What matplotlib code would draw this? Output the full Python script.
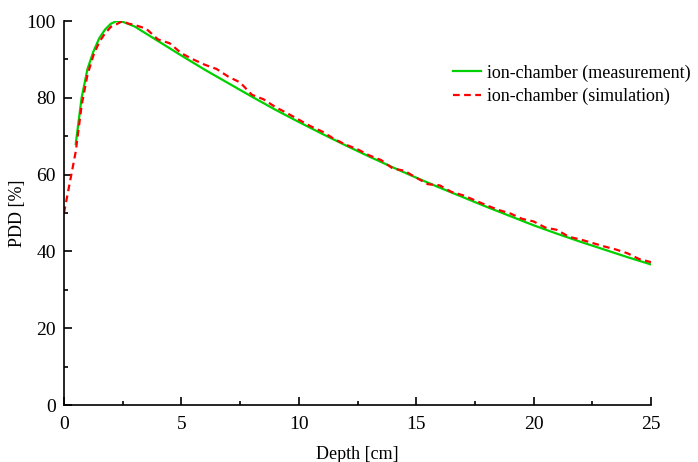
import matplotlib
matplotlib.use("Agg")
import matplotlib.pyplot as plt
from matplotlib.ticker import MultipleLocator

# measured PDD (ion chamber)
meas_depth = [0.5, 0.75, 1.0, 1.25, 1.5, 1.75, 2.0, 2.25, 2.5, 3.0, 4, 5, 6, 7, 8, 9,
              10, 11, 12, 13, 14, 15, 16, 17, 18, 19, 20, 21, 22, 23, 24, 25]
meas_pdd = [68, 80, 87.5, 92, 95.5, 97.8, 99.3, 100, 99.8, 98.6, 94.8, 91.0, 87.3, 83.8,
            80.3, 76.9, 73.7, 70.6, 67.6, 64.7, 61.9, 59.2, 56.6, 54.1, 51.6, 49.2, 46.8,
            44.6, 42.5, 40.5, 38.5, 36.6]

# simulated PDD
sim_depth = [0, 0.25, 0.5, 0.75, 1.0, 1.25, 1.5, 1.75, 2.0, 2.25, 2.5, 2.75, 3.0, 3.5,
             4.0, 4.5, 5.0, 5.5, 6.0, 6.5, 7.0, 7.5, 8.0, 8.5, 9.0, 9.5, 10, 10.5, 11,
             11.5, 12, 12.5, 13, 13.5, 14, 14.5, 15, 15.5, 16, 16.5, 17, 17.5, 18, 18.5,
             19, 19.5, 20, 20.5, 21, 21.5, 22, 22.5, 23, 23.5, 24, 24.5, 25]
sim_pdd = [50, 58, 66, 78, 86, 91, 94.5, 96.8, 98.5, 99.2, 100, 99.3, 99.0, 98, 95.2,
           94.2, 91.6, 90, 88.6, 87.5, 85.5, 84.0, 80.8, 79.6, 77.6, 76, 74.3, 72.6, 71.2,
           69.3, 67.8, 66.6, 65, 63.8, 61.6, 61, 59.2, 57.5, 57.2, 55.5, 54.6, 53.3, 52,
           50.8, 49.9, 48.5, 47.8, 46.2, 45.6, 43.8, 43.1, 42.2, 41.3, 40.5, 39.5, 38.0,
           37.2]

plt.rcParams["font.family"] = ["Liberation Serif", "DejaVu Serif"]

fig = plt.figure(figsize=(6.98, 4.62), dpi=100)
ax = fig.add_axes([64 / 698, 57 / 462, 587 / 698, 384 / 462])

ax.plot(meas_depth, meas_pdd, color="#00d000", lw=1.6, label="ion-chamber (measurement)")
ax.plot(sim_depth, sim_pdd, color="#ff0000", lw=1.6, ls=(0, (3, 2)),
        label="ion-chamber (simulation)")

ax.set_xlim(0, 25)
ax.set_ylim(0, 100)
ax.xaxis.set_major_locator(MultipleLocator(5))
ax.xaxis.set_minor_locator(MultipleLocator(2.5))
ax.yaxis.set_major_locator(MultipleLocator(20))
ax.yaxis.set_minor_locator(MultipleLocator(10))
ax.tick_params(which="both", direction="in", labelsize=14, width=1.2)
ax.tick_params(which="major", length=6)
ax.tick_params(which="minor", length=3)
ax.tick_params(axis="x", pad=8)
ax.tick_params(axis="y", pad=6)

for s in ["top", "right"]:
    ax.spines[s].set_visible(False)
for s in ["left", "bottom"]:
    ax.spines[s].set_linewidth(1.2)

ax.set_xlabel("Depth [cm]", fontsize=13, labelpad=9)
ax.set_ylabel("PDD [%]", fontsize=13)
ax.yaxis.set_label_coords(-0.065, 0.5)

ax.legend(loc="upper left", bbox_to_anchor=(0.663, 0.887), frameon=False,
          borderaxespad=0, borderpad=0, fontsize=13, handlelength=1.55,
          handletextpad=0.35, labelspacing=0.35)

fig.savefig("out.png", dpi=100)
